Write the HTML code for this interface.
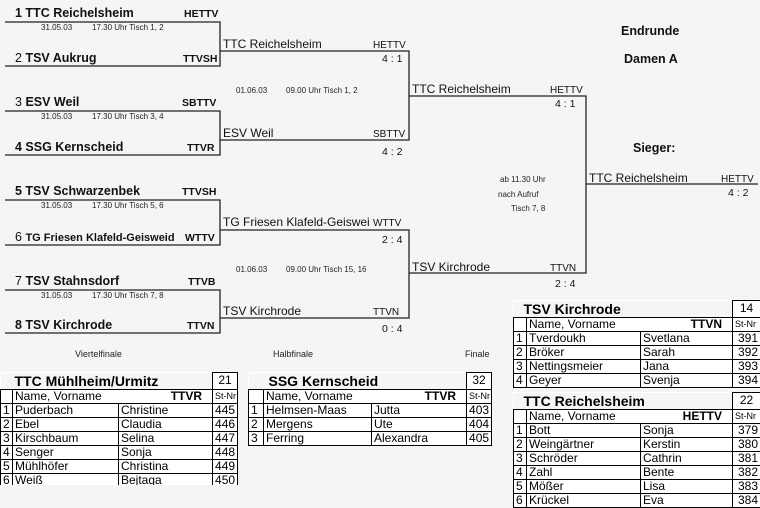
<!DOCTYPE html>
<html><head><meta charset="utf-8"><style>
body{margin:0;width:760px;height:508px;background:#f5f5f3;overflow:hidden;position:relative;font-family:"Liberation Sans",Arial,sans-serif;}
svg{position:absolute;left:0;top:0}
table{position:absolute;border-collapse:collapse;font-size:12px;background:#fff;table-layout:fixed}
td{border:1px solid #000;padding:0 2px;height:13px;line-height:13px;white-space:nowrap;overflow:hidden}
td.n{text-align:right}
td.t{border:none;font-weight:bold;font-size:14px;background:#f5f5f3;padding-left:14px;height:16px;line-height:16px}
td.b{font-size:12px;text-align:center}
.s{font-size:9px}
</style></head><body>
<svg width="760" height="508" font-family="Liberation Sans, Arial, sans-serif">
<g stroke="#222" stroke-width="1.3" fill="none">
<path d="M5 22H220V66H5M5 111H220V155H5M5 200H220V245H5M5 290H220V333H5"/>
<path d="M220 51H409V140H220M220 230H409V318H220"/>
<path d="M409 96H586V273H409M586 184H758"/>
</g>
<g font-size="12.5" font-weight="bold" fill="#111">
<text x="15" y="17">1 TTC Reichelsheim</text><text x="184" y="17" font-size="10.5">HETTV</text>
<text x="15" y="62" font-weight="normal">2 <tspan font-weight="bold">TSV Aukrug</tspan></text><text x="183" y="62" font-size="10.5">TTVSH</text>
<text x="15" y="106" font-weight="normal">3 <tspan font-weight="bold">ESV Weil</tspan></text><text x="182" y="106" font-size="10.5">SBTTV</text>
<text x="15" y="151">4 SSG Kernscheid</text><text x="187" y="151" font-size="10.5">TTVR</text>
<text x="15" y="195">5 TSV Schwarzenbek</text><text x="182" y="195" font-size="10.5">TTVSH</text>
<text x="15" y="241" font-weight="normal">6 <tspan font-weight="bold" font-size="11">TG Friesen Klafeld-Geisweid</tspan></text><text x="185" y="241" font-size="10.5">WTTV</text>
<text x="15" y="285" font-weight="normal">7 <tspan font-weight="bold">TSV Stahnsdorf</tspan></text><text x="188" y="285" font-size="10.5">TTVB</text>
<text x="15" y="329">8 TSV Kirchrode</text><text x="187" y="329" font-size="10.5">TTVN</text>
</g>
<g font-size="12" fill="#111">
<text x="223" y="48">TTC Reichelsheim</text><text x="373" y="48" font-size="10">HETTV</text><text x="382" y="62" font-size="10.5">4 : 1</text>
<text x="223" y="137">ESV Weil</text><text x="373" y="137" font-size="10">SBTTV</text><text x="382" y="155" font-size="10.5">4 : 2</text>
<text x="223" y="226">TG Friesen Klafeld-Geiswei</text><text x="373" y="226" font-size="10">WTTV</text><text x="382" y="243" font-size="10.5">2 : 4</text>
<text x="223" y="315">TSV Kirchrode</text><text x="373" y="315" font-size="10">TTVN</text><text x="382" y="332" font-size="10.5">0 : 4</text>
<text x="412" y="93">TTC Reichelsheim</text><text x="550" y="93" font-size="10">HETTV</text><text x="555" y="107" font-size="10.5">4 : 1</text>
<text x="412" y="271">TSV Kirchrode</text><text x="550" y="271" font-size="10">TTVN</text><text x="555" y="287" font-size="10.5">2 : 4</text>
<text x="589" y="182">TTC Reichelsheim</text><text x="721" y="182" font-size="10">HETTV</text><text x="728" y="196" font-size="10.5">4 : 2</text>
</g>
<g font-size="8" fill="#222">
<text x="41" y="30">31.05.03</text><text x="92" y="30">17.30 Uhr Tisch 1, 2</text>
<text x="41" y="119">31.05.03</text><text x="92" y="119">17.30 Uhr Tisch 3, 4</text>
<text x="41" y="208">31.05.03</text><text x="92" y="208">17.30 Uhr Tisch 5, 6</text>
<text x="41" y="298">31.05.03</text><text x="92" y="298">17.30 Uhr Tisch 7, 8</text>
<text x="236" y="93">01.06.03</text><text x="286" y="93">09.00 Uhr Tisch 1, 2</text>
<text x="236" y="272">01.06.03</text><text x="286" y="272">09.00 Uhr Tisch 15, 16</text>
<text x="500" y="182">ab 11.30 Uhr</text><text x="498" y="197">nach Aufruf</text><text x="511" y="211">Tisch 7, 8</text>
</g>
<g font-size="9" fill="#222">
<text x="75" y="357">Viertelfinale</text><text x="273" y="357">Halbfinale</text><text x="465" y="357">Finale</text>
</g>
<g font-size="12.5" font-weight="bold" fill="#111">
<text x="621" y="35">Endrunde</text><text x="624" y="63">Damen A</text><text x="633" y="152">Sieger:</text>
</g>
</svg>

<div style="position:absolute;left:0;top:372px;width:240px;height:113px;overflow:hidden">
<table style="left:0;top:0;width:237px">
<colgroup><col style="width:12px"><col style="width:106px"><col style="width:94px"><col style="width:25px"></colgroup>
<tr><td class="t" colspan="3" style="padding-left:14px">TTC Mühlheim/Urmitz</td><td class="b">21</td></tr>
<tr><td></td><td colspan="2">Name, Vorname<b style="float:right;margin-right:8px">TTVR</b></td><td class="s">St-Nr</td></tr>
<tr><td>1</td><td>Puderbach</td><td>Christine</td><td class="n">445</td></tr>
<tr><td>2</td><td>Ebel</td><td>Claudia</td><td class="n">446</td></tr>
<tr><td>3</td><td>Kirschbaum</td><td>Selina</td><td class="n">447</td></tr>
<tr><td>4</td><td>Senger</td><td>Sonja</td><td class="n">448</td></tr>
<tr><td>5</td><td>Mühlhöfer</td><td>Christina</td><td class="n">449</td></tr>
<tr><td>6</td><td>Weiß</td><td>Bejtaga</td><td class="n">450</td></tr>
</table></div>

<table style="left:248px;top:372px;width:243px">
<colgroup><col style="width:15px"><col style="width:108px"><col style="width:95px"><col style="width:25px"></colgroup>
<tr><td class="t" colspan="3" style="padding-left:20px">SSG Kernscheid</td><td class="b">32</td></tr>
<tr><td></td><td colspan="2">Name, Vorname<b style="float:right;margin-right:8px">TTVR</b></td><td class="s">St-Nr</td></tr>
<tr><td>1</td><td>Helmsen-Maas</td><td>Jutta</td><td class="n">403</td></tr>
<tr><td>2</td><td>Mergens</td><td>Ute</td><td class="n">404</td></tr>
<tr><td>3</td><td>Ferring</td><td>Alexandra</td><td class="n">405</td></tr>
</table>

<table style="left:513px;top:300px;width:247px">
<colgroup><col style="width:13px"><col style="width:114px"><col style="width:92px"><col style="width:28px"></colgroup>
<tr><td class="t" colspan="3" style="padding-left:10px">TSV Kirchrode</td><td class="b">14</td></tr>
<tr><td></td><td colspan="2">Name, Vorname<b style="float:right;margin-right:8px">TTVN</b></td><td class="s">St-Nr</td></tr>
<tr><td>1</td><td>Tverdoukh</td><td>Svetlana</td><td class="n">391</td></tr>
<tr><td>2</td><td>Bröker</td><td>Sarah</td><td class="n">392</td></tr>
<tr><td>3</td><td>Nettingsmeier</td><td>Jana</td><td class="n">393</td></tr>
<tr><td>4</td><td>Geyer</td><td>Svenja</td><td class="n">394</td></tr>
</table>

<table style="left:513px;top:392px;width:247px">
<colgroup><col style="width:13px"><col style="width:114px"><col style="width:92px"><col style="width:28px"></colgroup>
<tr><td class="t" colspan="3" style="padding-left:10px">TTC Reichelsheim</td><td class="b">22</td></tr>
<tr><td></td><td colspan="2">Name, Vorname<b style="float:right;margin-right:8px">HETTV</b></td><td class="s">St-Nr</td></tr>
<tr><td>1</td><td>Bott</td><td>Sonja</td><td class="n">379</td></tr>
<tr><td>2</td><td>Weingärtner</td><td>Kerstin</td><td class="n">380</td></tr>
<tr><td>3</td><td>Schröder</td><td>Cathrin</td><td class="n">381</td></tr>
<tr><td>4</td><td>Zahl</td><td>Bente</td><td class="n">382</td></tr>
<tr><td>5</td><td>Mößer</td><td>Lisa</td><td class="n">383</td></tr>
<tr><td>6</td><td>Krückel</td><td>Eva</td><td class="n">384</td></tr>
</table>
</body></html>
